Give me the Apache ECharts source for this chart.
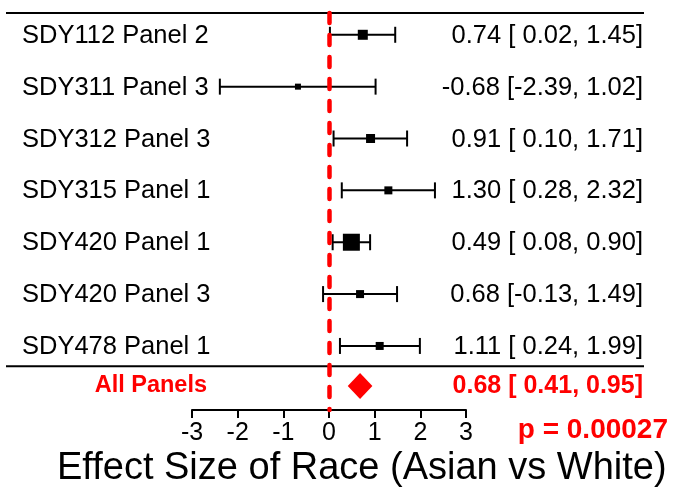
<!DOCTYPE html>
<html>
<head>
<meta charset="utf-8">
<script src="https://cdn.jsdelivr.net/npm/echarts@6/dist/echarts.min.js"></script>
<style>
html,body{margin:0;padding:0;background:#fff;}
#chart{width:678px;height:487px;}
</style>
</head>
<body>
<div id="chart"></div>
<script>
// ---- data ----
const labels = ['SDY112 Panel 2','SDY311 Panel 3','SDY312 Panel 3','SDY315 Panel 1','SDY420 Panel 1','SDY420 Panel 3','SDY478 Panel 1'];
const est    = [0.74, -0.68, 0.91, 1.30, 0.49, 0.68, 1.11];
const lower  = [0.02, -2.39, 0.10, 0.28, 0.08, -0.13, 0.24];
const upper  = [1.45, 1.02, 1.71, 2.32, 0.90, 1.49, 1.99];
const weight = [10, 6, 9, 8, 17, 8, 8];   // box size (study weight)
const sumLabel = 'All Panels';
const sumEst = 0.68, sumLower = 0.41, sumUpper = 0.95;
const pText = 'p = 0.00027';
const xTicks = [-3, -2, -1, 0, 1, 2, 3];
const xTitle = 'Effect Size of Race (Asian vs White)';

// ---- layout ----
const FONT = '"Liberation Sans", Arial, Helvetica, sans-serif';
const sumRow = 6.77;
const lineRows = [-0.42, 6.39];
const fmtL = v => (v < 0 ? '' : ' ') + v.toFixed(2);
const ciText = (e, l, u) => e.toFixed(2) + ' [' + fmtL(l) + ', ' + u.toFixed(2) + ']';

const chart = echarts.init(document.getElementById('chart'), null, {renderer: 'canvas'});

const rowData = labels.map((lab, i) => [est[i], lower[i], upper[i], weight[i], i]);

const option = {
  animation: false,
  backgroundColor: '#fff',
  grid: {left: 192, right: 212, top: 13, bottom: 77},
  xAxis: {
    type: 'value', min: xTicks[0], max: xTicks[xTicks.length - 1], interval: 1,
    axisLine: {show: true, onZero: false, lineStyle: {color: '#000', width: 2}},
    axisTick: {show: true, length: 8, lineStyle: {color: '#000', width: 2}},
    axisLabel: {color: '#000', fontSize: 25, fontFamily: FONT, margin: 11},
    splitLine: {show: false}
  },
  yAxis: {type: 'value', inverse: true, min: -0.42, max: 7.235, show: false},
  series: [
    {
      type: 'custom', clip: false, silent: true,
      data: rowData,
      renderItem: function (params, api) {
        const e = api.value(0), l = api.value(1), u = api.value(2), w = api.value(3), r = api.value(4);
        const pe = api.coord([e, r]), pl = api.coord([l, r]), pu = api.coord([u, r]);
        const y = pe[1];
        const cap = 8;
        const ls = {stroke: '#000', lineWidth: 2};
        return {
          type: 'group',
          children: [
            {type: 'line', shape: {x1: pl[0], y1: y, x2: pu[0], y2: y}, style: ls},
            {type: 'line', shape: {x1: pl[0], y1: y - cap, x2: pl[0], y2: y + cap}, style: ls},
            {type: 'line', shape: {x1: pu[0], y1: y - cap, x2: pu[0], y2: y + cap}, style: ls},
            {type: 'rect', shape: {x: pe[0] - w / 2, y: y - w / 2, width: w, height: w}, style: {fill: '#000'}},
            {type: 'text', x: 22, y: y + 1, style: {text: labels[r], fill: '#000', fontSize: 25.5, fontFamily: FONT, align: 'left', verticalAlign: 'middle'}},
            {type: 'text', x: 643, y: y + 1, style: {text: ciText(e, l, u), fill: '#000', fontSize: 25.5, fontFamily: FONT, align: 'right', verticalAlign: 'middle'}}
          ]
        };
      },
      markLine: {
        silent: true, symbol: 'none', label: {show: false},
        lineStyle: {color: '#ff0000', width: 4.5, type: [10, 12], cap: 'round'},
        data: [{xAxis: 0}]
      }
    },
    {
      type: 'custom', clip: false, silent: true,
      data: [[sumEst, sumLower, sumUpper, sumRow]],
      renderItem: function (params, api) {
        const e = api.value(0), l = api.value(1), u = api.value(2), r = api.value(3);
        const pe = api.coord([e, r]), pl = api.coord([l, r]), pu = api.coord([u, r]);
        const y = pe[1], h = 13;
        return {
          type: 'group',
          children: [
            {type: 'polygon', shape: {points: [[pl[0], y], [pe[0], y - h], [pu[0], y], [pe[0], y + h]]}, style: {fill: '#ff0000'}},
            {type: 'text', x: 207, y: y, style: {text: sumLabel, fill: '#ff0000', fontSize: 23.5, fontWeight: 'bold', fontFamily: FONT, align: 'right', verticalAlign: 'middle'}},
            {type: 'text', x: 643, y: y, style: {text: ciText(e, l, u), fill: '#ff0000', fontSize: 25, fontWeight: 'bold', fontFamily: FONT, align: 'right', verticalAlign: 'middle'}}
          ]
        };
      }
    },
    {
      type: 'custom', clip: false, silent: true,
      data: lineRows.map(v => [v]),
      renderItem: function (params, api) {
        const y = api.coord([0, api.value(0)])[1];
        return {type: 'line', shape: {x1: 6, y1: y, x2: 644, y2: y}, style: {stroke: '#000', lineWidth: 2}};
      }
    }
  ],
  graphic: [
    {type: 'text', right: 10, top: 416, style: {text: pText, fill: '#ff0000', fontSize: 28, fontWeight: 'bold', fontFamily: FONT}},
    {type: 'text', left: 57, top: 450, style: {text: xTitle, fill: '#000', fontSize: 38, fontFamily: FONT}}
  ]
};
chart.setOption(option);
</script>
</body>
</html>
